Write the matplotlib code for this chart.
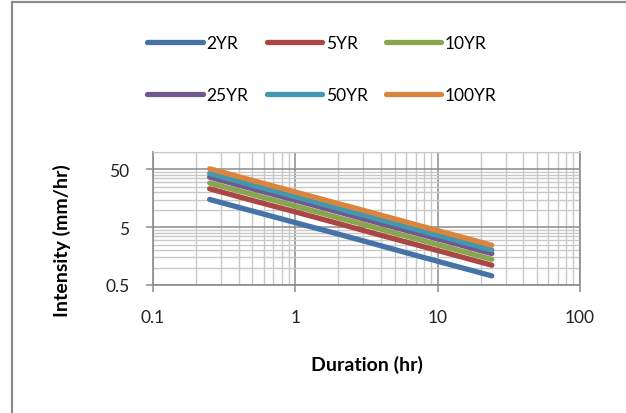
import matplotlib
matplotlib.use("Agg")
import matplotlib.pyplot as plt
from matplotlib.patches import Rectangle
from matplotlib.ticker import FixedLocator, NullFormatter

plt.rcParams['font.family'] = ['Lato', 'DejaVu Sans']

# durations (hr) and intensities (mm/hr)
duration = [0.25, 0.5, 1, 2, 3, 6, 12, 24]
yr2 = [15.1, 9.5, 6.0, 3.8, 2.9, 1.81, 1.14, 0.72]
yr5 = [23.1, 14.5, 9.2, 5.8, 4.4, 2.77, 1.75, 1.10]
yr10 = [29.1, 18.4, 11.6, 7.3, 5.6, 3.5, 2.21, 1.39]
yr25 = [36.7, 23.1, 14.6, 9.2, 7.0, 4.4, 2.78, 1.75]
yr50 = [42.4, 26.7, 16.8, 10.6, 8.1, 5.1, 3.21, 2.02]
yr100 = [51.2, 32.2, 20.3, 12.8, 9.8, 6.15, 3.87, 2.44]

labels = ['2YR', '5YR', '10YR', '25YR', '50YR', '100YR']
series = [yr2, yr5, yr10, yr25, yr50, yr100]
colors = ['#4572A7', '#AA4643', '#89A54E', '#71588F', '#4198AF', '#DB843D']

fig = plt.figure(figsize=(6.26, 4.14), dpi=100)
ax = fig.add_axes([153 / 626, 1 - 286 / 414, 427 / 626, 133 / 414])

ax.set_xscale('log')
ax.set_yscale('log')
ax.set_xlim(0.1, 100)
ax.set_ylim(0.5, 100)

xmaj = [0.1, 1, 10, 100]
xmin = [m * d for d in [0.1, 1, 10] for m in range(2, 10)]
ymaj = [0.5, 5, 50]
ymin = [0.5 * k * d for d in [1, 10] for k in range(2, 10)] + [100]

ax.xaxis.set_major_locator(FixedLocator(xmaj))
ax.xaxis.set_minor_locator(FixedLocator(xmin))
ax.yaxis.set_major_locator(FixedLocator(ymaj))
ax.yaxis.set_minor_locator(FixedLocator(ymin))
ax.set_xticklabels(['0.1', '1', '10', '100'])
ax.set_yticklabels(['0.5', '5', '50'])
ax.xaxis.set_minor_formatter(NullFormatter())
ax.yaxis.set_minor_formatter(NullFormatter())

ax.grid(which='major', color='#8C8C8C', linewidth=1.1)
ax.grid(which='minor', color='#C8C8C8', linewidth=1.0)
ax.set_axisbelow(True)

ax.tick_params(which='major', length=5, width=1.1, color='#8C8C8C',
               labelsize=12.5, pad=12, labelcolor='#222222')
ax.tick_params(which='minor', length=0)

for s in ['left', 'bottom', 'right']:
    ax.spines[s].set_color('#8C8C8C')
    ax.spines[s].set_linewidth(1.2)
ax.spines['top'].set_color('#C8C8C8')

handles = []
for lab, vals, c in zip(labels, series, colors):
    h, = ax.plot(duration, vals, color=c, linewidth=3.8,
                 solid_capstyle='round', label=lab)
    handles.append(h)

order = [0, 3, 1, 4, 2, 5]
fig.legend([handles[i] for i in order], [labels[i] for i in order],
           ncol=3, loc='center', bbox_to_anchor=(322 / 626, 1 - 70 / 414),
           frameon=False, fontsize=12.5, handlelength=3.2, handletextpad=0.2,
           columnspacing=1.05, labelspacing=2.1)

fig.text(62 / 626, 1 - 241 / 414, 'Intensity (mm/hr)', rotation=90,
         ha='center', va='center', fontsize=14, fontweight='bold')
fig.text(367 / 626, 1 - 365 / 414, 'Duration (hr)', ha='center',
         va='center', fontsize=14, fontweight='bold')

fig.patches.append(Rectangle((12 / 626, -0.05), 1.0, 1 - 3 / 414 + 0.05,
                             transform=fig.transFigure, fill=False,
                             edgecolor='#8C8C8C', linewidth=1.6))

fig.savefig('out.png', dpi=100)
